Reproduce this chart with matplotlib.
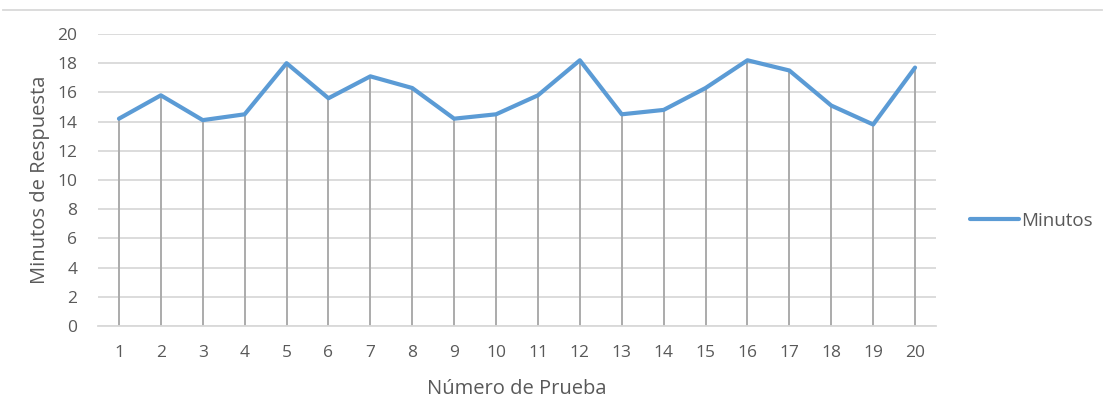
import matplotlib
matplotlib.use('Agg')
import matplotlib.pyplot as plt
from matplotlib.lines import Line2D

plt.rcParams['font.family'] = ['Open Sans', 'DejaVu Sans']

# Tiempo de respuesta por prueba
pruebas = list(range(1, 21))
minutos = [14.2, 15.8, 14.1, 14.5, 18.0, 15.6, 17.1, 16.3, 14.2, 14.5,
           15.8, 18.2, 14.5, 14.8, 16.3, 18.2, 17.5, 15.1, 13.8, 17.7]
y_ticks = list(range(0, 21, 2))

text_color = '#595959'
line_color = '#5B9BD5'

fig = plt.figure(figsize=(11.05, 3.98), dpi=100)
ax = fig.add_axes([98 / 1105, 1 - 326 / 398, (936 - 98) / 1105, (326 - 34) / 398])

# lineas de caida desde cada punto hasta el eje
ax.vlines(pruebas, 0, minutos, colors='#ABABAB', linewidth=1.4, zorder=2)
ax.plot(pruebas, minutos, color=line_color, linewidth=3.0, label='Minutos',
        solid_joinstyle='round', solid_capstyle='round', zorder=3)

ax.set_xlim(0.5, 20.5)
ax.set_ylim(0, 20)
ax.set_yticks(y_ticks)
ax.set_xticks(pruebas)
ax.yaxis.grid(True, color='#D9D9D9', linewidth=1.3)
ax.set_axisbelow(True)
for side in ['top', 'right', 'left']:
    ax.spines[side].set_visible(False)
ax.spines['bottom'].set_color('#D9D9D9')
ax.spines['bottom'].set_linewidth(1.3)
ax.tick_params(length=0, labelsize=12.5, labelcolor=text_color)
ax.tick_params(axis='y', pad=15)
ax.tick_params(axis='x', pad=13.5)

ax.set_xlabel('Número de Prueba', fontsize=14.5, color=text_color)
ax.set_ylabel('Minutos de Respuesta', fontsize=14.5, color=text_color)
ax.xaxis.set_label_coords(0.5, -0.18)
ax.yaxis.set_label_coords(-0.057, 0.5)

ax.legend(loc='center left', bbox_to_anchor=(1.0406, 0.36), frameon=False,
          borderaxespad=0, borderpad=0, handlelength=2.6, handletextpad=0.1,
          fontsize=13.5, labelcolor=text_color)

# borde superior del area del grafico
fig.add_artist(Line2D([3 / 1105, 1102 / 1105], [1 - 10 / 398] * 2,
                      color='#D9D9D9', linewidth=1.3))

fig.savefig('out.png', dpi=100)
